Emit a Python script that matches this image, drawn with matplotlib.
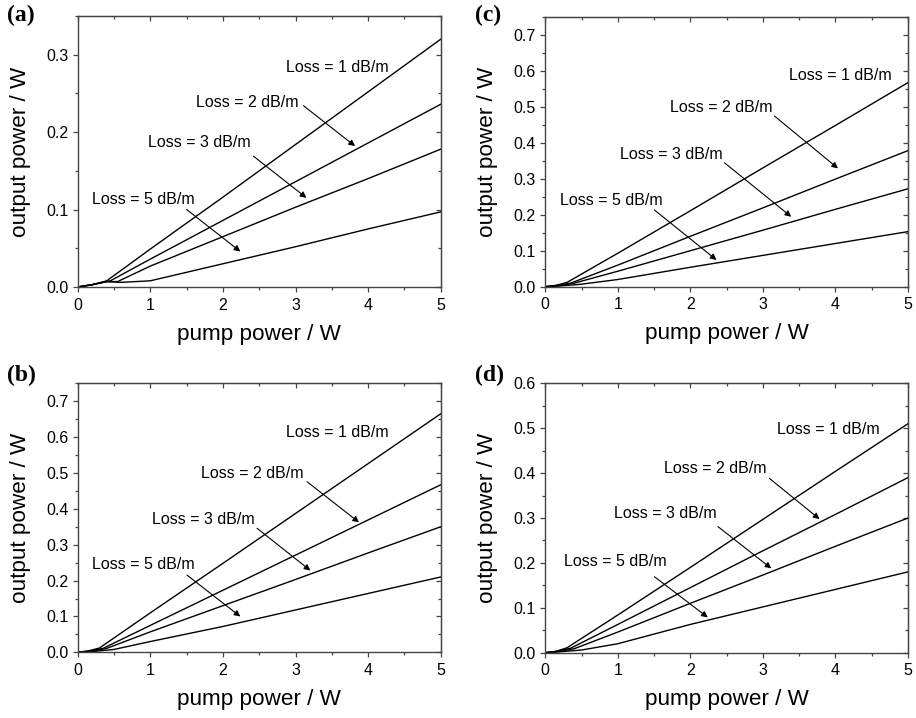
import matplotlib
matplotlib.use("Agg")
import matplotlib.pyplot as plt
from matplotlib.ticker import MultipleLocator, FormatStrFormatter, NullFormatter

plt.rcParams['font.family'] = ['Liberation Sans', 'DejaVu Sans']

# ---------------- data ----------------
losses = ["Loss = 1 dB/m", "Loss = 2 dB/m", "Loss = 3 dB/m", "Loss = 5 dB/m"]

# panel (a)
a_x1 = [0, 0.2, 0.4, 1, 2, 3, 4, 5]
a_y1 = [0, 0.003, 0.008, 0.049, 0.116, 0.184, 0.252, 0.320]
a_x2 = [0, 0.2, 0.45, 1, 2, 3, 4, 5]
a_y2 = [0, 0.003, 0.008, 0.036, 0.086, 0.136, 0.186, 0.236]
a_x3 = [0, 0.2, 0.4, 0.55, 1, 2, 3, 4, 5]
a_y3 = [0, 0.003, 0.007, 0.007, 0.027, 0.065, 0.103, 0.140, 0.178]
a_x5 = [0, 0.2, 0.4, 0.6, 1, 2, 3, 4, 5]
a_y5 = [0, 0.003, 0.007, 0.006, 0.008, 0.030, 0.052, 0.075, 0.097]

# panel (b)
b_x1 = [0, 0.15, 0.3, 1, 2, 3, 4, 5]
b_y1 = [0, 0.004, 0.012, 0.110, 0.248, 0.387, 0.526, 0.665]
b_x2 = [0, 0.15, 0.35, 1, 2, 3, 4, 5]
b_y2 = [0, 0.003, 0.011, 0.075, 0.173, 0.271, 0.369, 0.467]
b_x3 = [0, 0.2, 0.4, 1, 2, 3, 4, 5]
b_y3 = [0, 0.003, 0.011, 0.057, 0.130, 0.203, 0.277, 0.350]
b_x5 = [0, 0.2, 0.5, 1, 2, 3, 4, 5]
b_y5 = [0, 0.002, 0.008, 0.030, 0.072, 0.118, 0.164, 0.210]

# panel (c)
c_x1 = [0, 0.15, 0.3, 1, 2, 3, 4, 5]
c_y1 = [0, 0.004, 0.012, 0.093, 0.211, 0.330, 0.448, 0.567]
c_x2 = [0, 0.15, 0.35, 1, 2, 3, 4, 5]
c_y2 = [0, 0.003, 0.010, 0.060, 0.140, 0.219, 0.299, 0.378]
c_x3 = [0, 0.2, 0.4, 1, 2, 3, 4, 5]
c_y3 = [0, 0.003, 0.010, 0.043, 0.100, 0.157, 0.215, 0.272]
c_x5 = [0, 0.2, 0.5, 1, 2, 3, 4, 5]
c_y5 = [0, 0.002, 0.007, 0.020, 0.054, 0.087, 0.120, 0.153]

# panel (d)
d_x1 = [0, 0.15, 0.3, 1, 2, 3, 4, 5]
d_y1 = [0, 0.003, 0.011, 0.084, 0.190, 0.297, 0.404, 0.510]
d_x2 = [0, 0.15, 0.35, 1, 2, 3, 4, 5]
d_y2 = [0, 0.003, 0.010, 0.063, 0.145, 0.227, 0.308, 0.390]
d_x3 = [0, 0.2, 0.4, 1, 2, 3, 4, 5]
d_y3 = [0, 0.003, 0.009, 0.046, 0.110, 0.173, 0.237, 0.300]
d_x5 = [0, 0.2, 0.5, 1, 2, 3, 4, 5]
d_y5 = [0, 0.002, 0.006, 0.020, 0.063, 0.102, 0.141, 0.180]

panel_labels = ["(a)", "(b)", "(c)", "(d)"]
ymaxes = [0.35, 0.75, 0.75, 0.6]
x_ticks = [0, 1, 2, 3, 4, 5]

panels = [
    [(a_x1, a_y1), (a_x2, a_y2), (a_x3, a_y3), (a_x5, a_y5)],
    [(b_x1, b_y1), (b_x2, b_y2), (b_x3, b_y3), (b_x5, b_y5)],
    [(c_x1, c_y1), (c_x2, c_y2), (c_x3, c_y3), (c_x5, c_y5)],
    [(d_x1, d_y1), (d_x2, d_y2), (d_x3, d_y3), (d_x5, d_y5)],
]

# annotation layout (axes fraction): text centre, arrow start, arrow end
annots = [
    [((0.714, 0.811), None, None),
     ((0.468, 0.682), (0.622, 0.669), (0.764, 0.520)),
     ((0.334, 0.534), (0.484, 0.483), (0.630, 0.329)),
     ((0.180, 0.323), (0.300, 0.286), (0.448, 0.131))],
    [((0.715, 0.817), None, None),
     ((0.482, 0.665), (0.632, 0.634), (0.775, 0.483)),
     ((0.345, 0.492), (0.494, 0.461), (0.641, 0.304)),
     ((0.181, 0.325), (0.301, 0.287), (0.448, 0.133))],
    [((0.813, 0.784), None, None),
     ((0.485, 0.664), (0.632, 0.632), (0.807, 0.438)),
     ((0.347, 0.491), (0.494, 0.459), (0.678, 0.259)),
     ((0.182, 0.321), (0.301, 0.284), (0.472, 0.099))],
    [((0.781, 0.827), None, None),
     ((0.469, 0.682), (0.618, 0.647), (0.756, 0.496)),
     ((0.331, 0.515), (0.476, 0.468), (0.623, 0.313)),
     ((0.193, 0.338), (0.301, 0.282), (0.448, 0.131))],
]

W, H = 916, 718
fig = plt.figure(figsize=(W / 100, H / 100), dpi=100)

# axes boxes in pixels: left, right, top, bottom
boxes = [
    (77.7, 440.7, 16.0, 287.0),
    (77.7, 440.7, 383.3, 652.3),
    (545.3, 908.0, 16.7, 286.7),
    (545.3, 908.0, 383.3, 652.7),
]
label_pos = [(7, 15), (7, 375), (475, 15), (475, 375)]
spine_col = '#444444'

for i in range(4):
    l, r, t, b = boxes[i]
    ax = fig.add_axes([l / W, 1 - b / H, (r - l) / W, (b - t) / H])
    for (xs, ys) in panels[i]:
        ax.plot(xs, ys, color='black', lw=1.0)
    ax.set_xlim(0, 5)
    ax.set_ylim(0, ymaxes[i])
    ax.set_xticks(x_ticks)
    ax.xaxis.set_minor_locator(MultipleLocator(0.5))
    ax.yaxis.set_major_locator(MultipleLocator(0.1))
    ax.yaxis.set_minor_locator(MultipleLocator(0.05))
    ax.yaxis.set_major_formatter(FormatStrFormatter('%.1f'))
    ax.tick_params(which='both', direction='out', labelsize=11.5,
                   color=spine_col)
    ax.tick_params(which='major', length=3.6, width=0.9, pad=3.2)
    ax.tick_params(which='minor', length=2.2, width=0.9)
    ax.tick_params(axis='x', which='major', pad=4)
    for s in ax.spines.values():
        s.set_linewidth(1.0)
        s.set_color(spine_col)

    # mirrored inward ticks on top and right
    secx = ax.secondary_xaxis('top')
    secx.xaxis.set_major_locator(MultipleLocator(1))
    secx.xaxis.set_minor_locator(MultipleLocator(0.5))
    secx.xaxis.set_major_formatter(NullFormatter())
    secx.tick_params(which='both', direction='in', color=spine_col, width=0.9)
    secx.tick_params(which='major', length=3.6)
    secx.tick_params(which='minor', length=2.2)
    secx.spines['top'].set_color(spine_col)
    secy = ax.secondary_yaxis('right')
    secy.yaxis.set_major_locator(MultipleLocator(0.1))
    secy.yaxis.set_minor_locator(MultipleLocator(0.05))
    secy.yaxis.set_major_formatter(NullFormatter())
    secy.tick_params(which='both', direction='in', color=spine_col, width=0.9)
    secy.tick_params(which='major', length=3.6)
    secy.tick_params(which='minor', length=2.2)
    secy.spines['right'].set_color(spine_col)

    ax.set_xlabel('pump power / W', fontsize=16.2, labelpad=8)
    ax.set_ylabel('output power / W', fontsize=16.2, labelpad=11)

    for j, (tpos, a0, a1) in enumerate(annots[i]):
        ax.text(tpos[0], tpos[1], losses[j], transform=ax.transAxes,
                ha='center', va='center', fontsize=11.5)
        if a0 is not None:
            ax.annotate('', xy=a1, xytext=a0, xycoords='axes fraction',
                        textcoords='axes fraction',
                        arrowprops=dict(arrowstyle='-|>', lw=0.8, color='black',
                                        mutation_scale=9, shrinkA=0, shrinkB=0))

    px, py = label_pos[i]
    fig.text(px / W, 1 - py / H, panel_labels[i], family='Liberation Serif',
             fontweight='bold', fontsize=17, ha='left', va='center')

fig.savefig('out.png', dpi=100)
